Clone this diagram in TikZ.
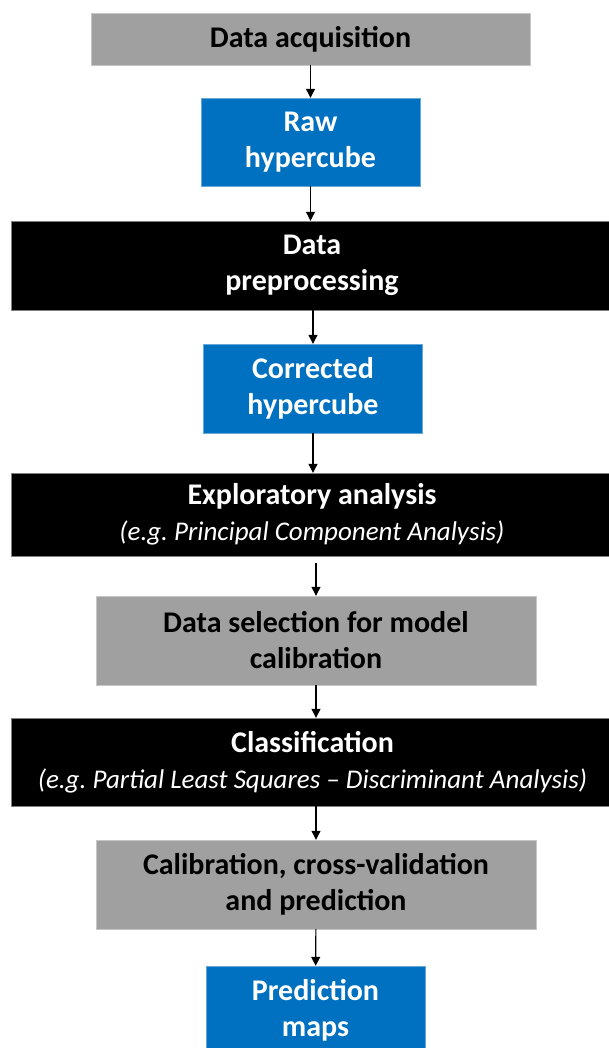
\documentclass[tikz,border=0pt]{standalone}
\usepackage{fontspec}
\setmainfont{Carlito}
\usetikzlibrary{arrows.meta}

\definecolor{boxgrey}{HTML}{A0A0A0}
\definecolor{boxblue}{HTML}{0070C0}
\newcommand{\eg}[1]{{\mdseries\itshape\fontsize{27}{36}\selectfont #1}}
\frenchspacing

\begin{document}
\begin{tikzpicture}[x=1pt,y=-1pt,
	box/.style={rectangle, inner sep=0pt, align=center, font=\fontsize{30}{36}\selectfont\bfseries},
	greybox/.style={box, fill=boxgrey, draw=boxgrey!60!white, text=black, minimum width=440pt, minimum height=89pt},
	bluebox/.style={box, fill=boxblue, draw=boxblue!60!white, text=white, minimum width=219pt, minimum height=88pt},
	blackbox/.style={box, fill=black, draw=black!50, text=white, minimum width=602pt, minimum height=88pt},
	arr/.style={-{Triangle[length=9pt,width=9pt]}, line width=1.1pt}]
	\useasboundingbox (0,0) rectangle (609,1048);

	\node[greybox, minimum width=439pt, minimum height=52pt] (acq) at (310.5,39) {Data acquisition};
	\node[bluebox] (raw) at (310.5,142) {Raw\\hypercube};
	\node[blackbox, minimum height=89pt] (prep) at (312,265.5) {Data\\preprocessing};
	\node[bluebox, minimum height=89pt] (corr) at (313,388.5) {Corrected\\hypercube};
	\node[blackbox, minimum height=83pt] (expl) at (312,514.5)
		{Exploratory analysis\\\eg{(e.g. Principal Component Analysis)}};
	\node[greybox] (sel) at (316,640.5) {Data selection for model\\calibration};
	\node[blackbox] (cls) at (312.5,762)
		{Classification\\\eg{(e.g. Partial Least Squares -- Discriminant Analysis)}};
	\node[greybox] (cal) at (316,884.5) {Calibration, cross-validation\\and prediction};
	\node[bluebox] (maps) at (315.5,1010) {Prediction\\maps};

	\draw[arr] (acq) -- (raw);
	\draw[arr] (raw) -- (raw |- prep.north);
	\draw[arr] (corr |- prep.south) -- (corr);
	\draw[arr] (corr) -- (corr |- expl.north);
	\draw[arr, shorten <=7pt] (sel |- expl.south) -- (sel);
	\draw[arr] (sel) -- (sel |- cls.north);
	\draw[arr] (cal |- cls.south) -- (cal);
	\draw[arr] (cal) -- (maps);
\end{tikzpicture}
\end{document}
